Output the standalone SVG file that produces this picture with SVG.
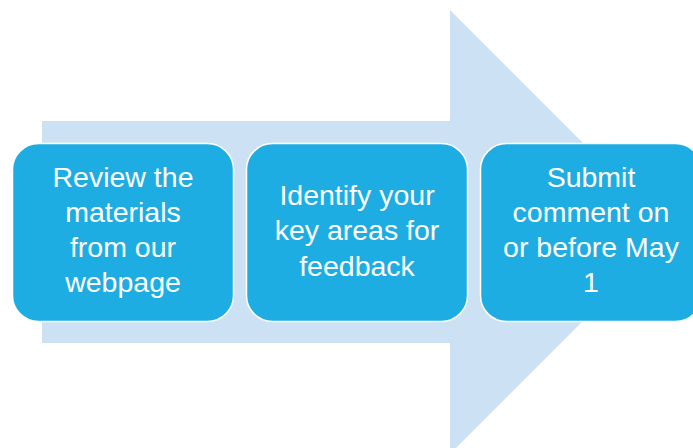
<svg xmlns="http://www.w3.org/2000/svg" width="693" height="448" viewBox="0 0 693 448">
<style>
.box{fill:#1EADE3;stroke:#FFFFFF;stroke-width:1.5}
.t{font-family:"Liberation Sans",Arial,sans-serif;font-size:28.5px;fill:#FFFFFF;text-anchor:middle}
</style>
<rect width="693" height="448" fill="#FFFFFF"/>
<g id="arrow">
<polygon points="42,121 450,121 450,10 672,232 450,454 450,343 42,343" fill="#CCE2F4"/>
</g>
<g id="node1">
<rect class="box" x="12.5" y="143.5" width="221" height="178" rx="26"/>
<text class="t" x="123" y="187">Review the</text>
<text class="t" x="123" y="222">materials</text>
<text class="t" x="123" y="257">from our</text>
<text class="t" x="123" y="292">webpage</text>
</g>
<g id="node2">
<rect class="box" x="246.5" y="143.5" width="221" height="178" rx="26"/>
<text class="t" x="357" y="205">Identify your</text>
<text class="t" x="357" y="240">key areas for</text>
<text class="t" x="357" y="276">feedback</text>
</g>
<g id="node3">
<rect class="box" x="480.5" y="143.5" width="221" height="178" rx="26"/>
<text class="t" x="591" y="187">Submit</text>
<text class="t" x="591" y="222">comment on</text>
<text class="t" x="591" y="257">or before May</text>
<text class="t" x="591" y="292">1</text>
</g>
<g id="connectors"></g>
</svg>
